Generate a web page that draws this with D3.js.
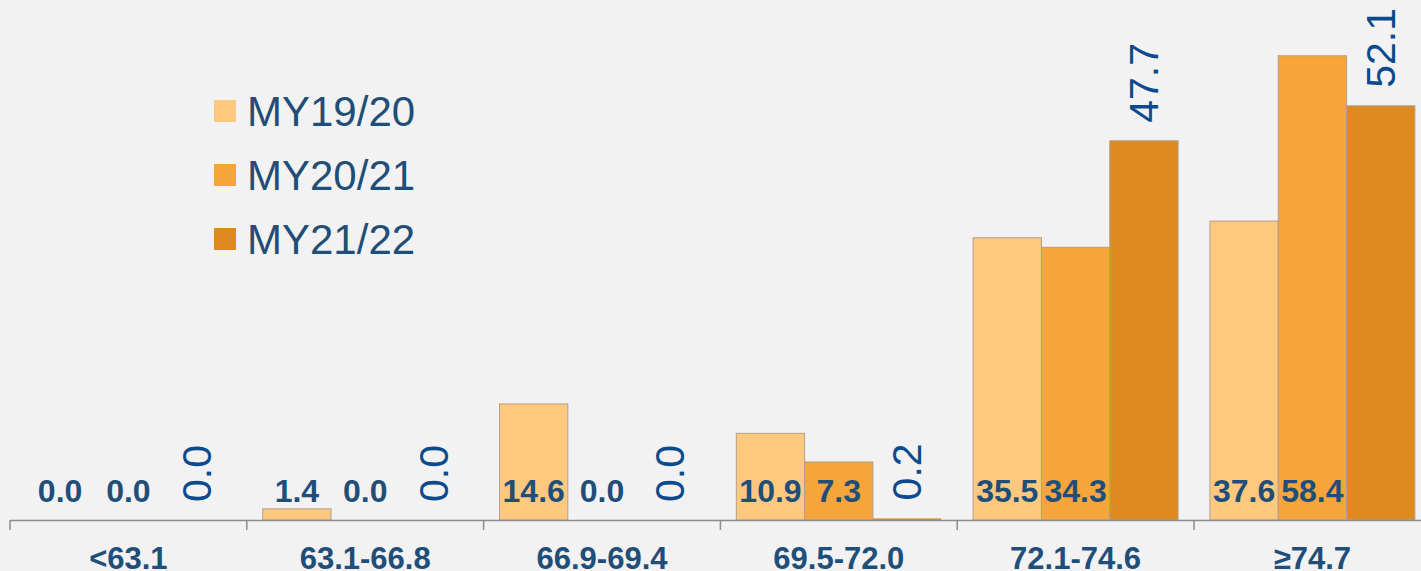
<!DOCTYPE html>
<html>
<head>
<meta charset="utf-8">
<script src="https://cdn.jsdelivr.net/npm/d3@7"></script>
<style>
  body { margin: 0; background: #f2f2f2; }
  svg { display: block; font-family: Arial, "Liberation Sans", sans-serif; }
</style>
</head>
<body>
<div id="chart-area"></div>
<script>
// categories and series
let categories = ["<63.1", "63.1-66.8", "66.9-69.4", "69.5-72.0", "72.1-74.6", "≥74.7"];
let seriesNames = ["MY19/20", "MY20/21", "MY21/22"];
let my1920 = [0.0, 1.4, 14.6, 10.9, 35.5, 37.6];
let my2021 = [0.0, 0.0, 0.0, 7.3, 34.3, 58.4];
let my2122 = [0.0, 0.0, 0.0, 0.2, 47.7, 52.1];
let colors = ["#fec87f", "#f6a53b", "#dd8b1f"];

let width = 1421, height = 571;
let base = 520;

let svg = d3.select("#chart-area")
    .append("svg")
    .attr("width", width)
    .attr("height", height);

svg.append("rect")
    .attr("width", width)
    .attr("height", height)
    .attr("fill", "#f2f2f2");

let data = categories.map(function(c, i) {
    return { cat: c, values: [my1920[i], my2021[i], my2122[i]] };
});

// X scales
let x = d3.scaleBand()
    .domain(categories)
    .range([10, 10 + 6 * 236.8])
    .padding(0);

let x1 = d3.scaleBand()
    .domain([0, 1, 2])
    .range([0, x.bandwidth()])
    .paddingInner(0)
    .paddingOuter(0.233);

// Y scale
let y = d3.scaleLinear()
    .domain([0, 60])
    .range([base, base - 60 * 7.95]);

// Bars
let groups = svg.selectAll("g.cat")
    .data(data)
    .enter()
    .append("g")
    .attr("class", "cat")
    .attr("transform", function(d) { return "translate(" + x(d.cat) + ",0)"; });

groups.selectAll("rect")
    .data(function(d) { return d.values; })
    .enter()
    .append("rect")
    .attr("x", function(d, i) { return x1(i); })
    .attr("y", function(d) { return y(d); })
    .attr("width", x1.bandwidth())
    .attr("height", function(d) { return base - y(d); })
    .attr("fill", function(d, i) { return colors[i]; })
    .attr("stroke", function(d) { return d > 1 ? "#b3a089" : "none"; })
    .attr("stroke-width", 1);

// Axis line and ticks
svg.append("line")
    .attr("x1", 10).attr("x2", width)
    .attr("y1", base + 0.5).attr("y2", base + 0.5)
    .attr("stroke", "#8c8c8c")
    .attr("stroke-width", 1.5);

svg.selectAll("line.tick")
    .data(categories)
    .enter()
    .append("line")
    .attr("class", "tick")
    .attr("x1", function(d) { return x(d); })
    .attr("x2", function(d) { return x(d); })
    .attr("y1", base)
    .attr("y2", base + 10)
    .attr("stroke", "#8c8c8c")
    .attr("stroke-width", 1.5);

// Category labels
svg.selectAll("text.cat")
    .data(categories)
    .enter()
    .append("text")
    .attr("class", "cat")
    .attr("x", function(d) { return x(d) + x.bandwidth() / 2; })
    .attr("y", 569)
    .attr("text-anchor", "middle")
    .attr("font-size", "31px")
    .attr("font-weight", "bold")
    .attr("fill", "#1f4e79")
    .text(function(d) { return d; });

// Value labels for first two series (bold, inside bottom)
groups.selectAll("text.val")
    .data(function(d) { return d.values.slice(0, 2); })
    .enter()
    .append("text")
    .attr("class", "val")
    .attr("x", function(d, i) { return x1(i) + x1.bandwidth() / 2; })
    .attr("y", base - 18)
    .attr("text-anchor", "middle")
    .attr("font-size", "32px")
    .attr("font-weight", "bold")
    .attr("fill", "#1f4e79")
    .text(function(d) { return d.toFixed(1); });

// Rotated labels for third series
groups.append("text")
    .attr("class", "rot")
    .attr("transform", function(d) {
        return "translate(" + (x1(2) + x1.bandwidth() / 2) + "," + (y(d.values[2]) - 18) + ") rotate(-90)";
    })
    .attr("text-anchor", "start")
    .attr("dominant-baseline", "central")
    .attr("font-size", "41px")
    .attr("fill", "#0b4a8c")
    .text(function(d) { return d.values[2].toFixed(1); });

// Legend
let legend = svg.selectAll("g.legend")
    .data(seriesNames)
    .enter()
    .append("g")
    .attr("class", "legend")
    .attr("transform", function(d, i) { return "translate(214," + (111 + i * 64) + ")"; });

legend.append("rect")
    .attr("x", 0)
    .attr("y", -11)
    .attr("width", 22)
    .attr("height", 22)
    .attr("fill", function(d, i) { return colors[i]; });

legend.append("text")
    .attr("x", 33)
    .attr("y", 15)
    .attr("font-size", "42px")
    .attr("fill", "#1f4e79")
    .text(function(d) { return d; });
</script>
</body>
</html>
